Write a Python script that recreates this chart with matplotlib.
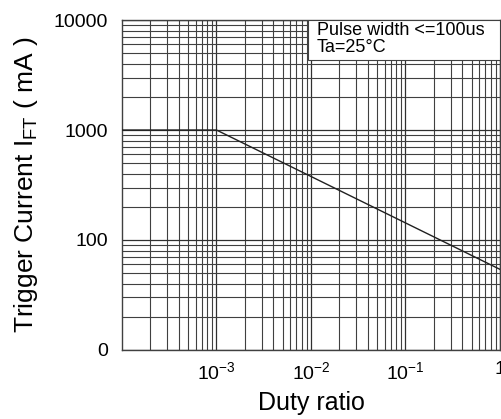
import matplotlib
matplotlib.use("Agg")
import matplotlib.pyplot as plt
from matplotlib.patches import Rectangle
from matplotlib.ticker import FixedLocator, LogLocator, NullFormatter

plt.rcParams['font.family'] = ['Liberation Sans', 'DejaVu Sans']
plt.rcParams['mathtext.fontset'] = 'custom'
plt.rcParams['mathtext.rm'] = 'Liberation Sans'
plt.rcParams['mathtext.it'] = 'Liberation Sans'

# curve
duty = [1e-4, 1e-3, 1.0]
current = [1000, 1000, 54]

xticks = [1e-3, 1e-2, 1e-1, 1]
xlabels = ['$10^{-3}$', '$10^{-2}$', '$10^{-1}$', '1']
yticks = [10, 100, 1000, 10000]
ylabels = ['0', '100', '1000', '10000']

fig = plt.figure(figsize=(5.01, 4.19), dpi=100)
ax = fig.add_axes([0.2435, 0.165, 0.7545, 0.787])

ax.plot(duty, current, color='#202020', linewidth=1.0, zorder=3)

ax.set_xscale('log')
ax.set_yscale('log')
ax.set_xlim(1e-4, 1)
ax.set_ylim(10, 10000)

ax.xaxis.set_major_locator(FixedLocator(xticks))
ax.set_xticklabels(xlabels)
ax.yaxis.set_major_locator(FixedLocator(yticks))
ax.set_yticklabels(ylabels)
ax.xaxis.set_minor_locator(LogLocator(base=10, subs=range(2, 10)))
ax.yaxis.set_minor_locator(LogLocator(base=10, subs=range(2, 10)))
ax.xaxis.set_minor_formatter(NullFormatter())
ax.yaxis.set_minor_formatter(NullFormatter())

ax.grid(True, which='major', color='#303030', linewidth=0.9)
ax.grid(True, which='minor', color='#404040', linewidth=0.8)
ax.tick_params(which='both', length=0, labelsize=14)
ax.tick_params(axis='y', pad=10)
ax.tick_params(axis='x', pad=8)
for s in ax.spines.values():
    s.set_color('#404040')
    s.set_linewidth(1.0)

ax.set_xlabel('Duty ratio', fontsize=18, labelpad=6)
ax.set_ylabel('Trigger Current I$_{\\mathrm{FT}}$ ( mA )', fontsize=19, labelpad=10)

# condition box in the upper right corner
ax.add_patch(Rectangle((0.492, 0.879), 0.508, 0.121, transform=ax.transAxes,
                       facecolor='white', edgecolor='#404040', linewidth=0.8, zorder=4))
ax.text(0.515, 0.993, 'Pulse width <=100us\nTa=25°C', transform=ax.transAxes,
        ha='left', va='top', fontsize=13, linespacing=1.0, zorder=5)

fig.savefig('out.png', dpi=100)
